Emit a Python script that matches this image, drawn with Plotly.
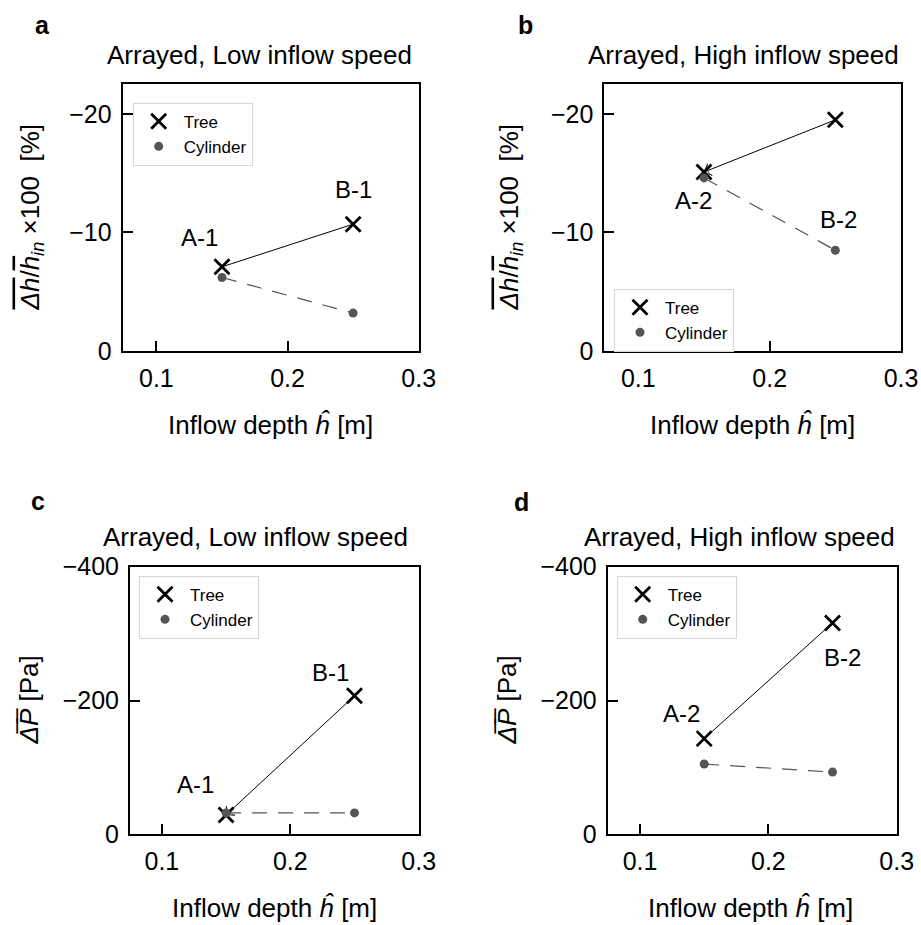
import plotly.graph_objects as go

# ---------------- data ----------------
depth = [0.15, 0.25]

tree_dh_low = [-7.1, -10.7]
cyl_dh_low = [-6.2, -3.2]
tree_dh_high = [-15.1, -19.5]
cyl_dh_high = [-14.6, -8.5]

tree_dp_low = [-29, -207]
cyl_dp_low = [-32, -32]
tree_dp_high = [-143, -316]
cyl_dp_high = [-105, -93]

labels_low = ["A-1", "B-1"]
labels_high = ["A-2", "B-2"]

panel_letters = ["a", "b", "c", "d"]
panel_titles = ["Arrayed, Low inflow speed", "Arrayed, High inflow speed",
                "Arrayed, Low inflow speed", "Arrayed, High inflow speed"]

x_tickvals = [0.1, 0.2, 0.3]
x_ticktext = ["0.1", "0.2", "0.3"]
dh_tickvals = [0, -10, -20]
dh_ticktext = ["0", "\u221210", "\u221220"]
dp_tickvals = [0, -200, -400]
dp_ticktext = ["0", "\u2212200", "\u2212400"]

series_names = ["Tree", "Cylinder"]

# ---------------- styling ----------------
W, H = 921, 925
FONT = "Liberation Sans, Arial, Helvetica, sans-serif"
CYL_COLOR = "#555555"


def px(x):
    return x / W


def py(y):
    return 1 - y / H


fig = go.Figure()

panels = [
    dict(tree=tree_dh_low, cyl=cyl_dh_low, labels=labels_low, ax="", legend="legend",
         arrow=False),
    dict(tree=tree_dh_high, cyl=cyl_dh_high, labels=labels_high, ax="2", legend="legend2",
         arrow=True),
    dict(tree=tree_dp_low, cyl=cyl_dp_low, labels=labels_low, ax="3", legend="legend3",
         arrow=True),
    dict(tree=tree_dp_high, cyl=cyl_dp_high, labels=labels_high, ax="4", legend="legend4",
         arrow=False),
]

for p in panels:
    xa, ya = "x" + p["ax"], "y" + p["ax"]
    # connecting lines
    fig.add_trace(go.Scatter(x=depth, y=p["tree"], mode="lines", xaxis=xa, yaxis=ya,
                             line=dict(color="black", width=1), showlegend=False,
                             hoverinfo="skip"))
    fig.add_trace(go.Scatter(x=depth, y=p["cyl"], mode="lines", xaxis=xa, yaxis=ya,
                             line=dict(color=CYL_COLOR, width=1.2, dash="15px,11px"),
                             showlegend=False, hoverinfo="skip"))
    if p["arrow"]:
        # arrow head pointing from case B towards case A
        fig.add_trace(go.Scatter(x=depth[::-1], y=p["tree"][::-1], mode="markers",
                                 xaxis=xa, yaxis=ya, showlegend=False, hoverinfo="skip",
                                 marker=dict(symbol="arrow-wide-open", size=[0, 9],
                                             angleref="previous", color="black",
                                             line=dict(color="black", width=1))))
    # markers
    fig.add_trace(go.Scatter(x=depth, y=p["tree"], mode="markers", xaxis=xa, yaxis=ya,
                             name=series_names[0], legend=p["legend"],
                             marker=dict(symbol="x-thin", size=15, color="black",
                                         line=dict(color="black", width=2.8))))
    fig.add_trace(go.Scatter(x=depth, y=p["cyl"], mode="markers", xaxis=xa, yaxis=ya,
                             name=series_names[1], legend=p["legend"],
                             marker=dict(symbol="circle", size=9, color=CYL_COLOR)))

# axes
x_domains = [(122.7, 418.7), (604.3, 901.0), (130.0, 418.7), (607.7, 896.7)]
y_domains = [(84.3, 351.0), (84.3, 351.0), (566.7, 834.3), (566.7, 834.3)]
x_ranges = [[0.0743, 0.3], [0.0741, 0.3], [0.0752, 0.3], [0.0748, 0.3]]
y_ranges = [[0, -22.5], [0, -22.5], [0, -400], [0, -400]]
y_ticks = [(dh_tickvals, dh_ticktext), (dh_tickvals, dh_ticktext),
           (dp_tickvals, dp_ticktext), (dp_tickvals, dp_ticktext)]

common = dict(showline=True, linecolor="black", linewidth=2, mirror=True,
              ticks="inside", ticklen=10, tickwidth=2, tickcolor="black",
              showgrid=False, zeroline=False, automargin=False,
              tickfont=dict(family=FONT, size=25, color="black"))

layout = {}
for i in range(4):
    suf = "" if i == 0 else str(i + 1)
    xd, yd = x_domains[i], y_domains[i]
    layout["xaxis" + suf] = dict(domain=[px(xd[0]), px(xd[1])], range=x_ranges[i],
                                 tickvals=x_tickvals, ticktext=x_ticktext,
                                 anchor="y" + suf, ticklabelstandoff=4, **common)
    layout["yaxis" + suf] = dict(domain=[py(yd[1]), py(yd[0])], range=y_ranges[i],
                                 tickvals=y_ticks[i][0], ticktext=y_ticks[i][1],
                                 anchor="x" + suf, ticklabelstandoff=4, **common)

legend_common = dict(xanchor="left", yanchor="top", bgcolor="white",
                     bordercolor="#d6d6d6", borderwidth=1,
                     font=dict(family=FONT, size=17, color="black"),
                     itemwidth=40, tracegroupgap=0)
layout["legend"] = dict(x=px(132.7), y=py(102.7), **legend_common)
layout["legend2"] = dict(x=px(614.0), y=py(288.7), **legend_common)
layout["legend3"] = dict(x=px(139.0), y=py(575.7), **legend_common)
layout["legend4"] = dict(x=px(616.7), y=py(575.7), **legend_common)

annotations = []

# panel letters
letter_pos = [(42.5, 25), (525, 25), (37.5, 501), (521.7, 502)]
for t, (x, y) in zip(panel_letters, letter_pos):
    annotations.append(dict(text="<b>" + t + "</b>", x=px(x), y=py(y), xref="paper",
                            yref="paper", showarrow=False, xanchor="center",
                            yanchor="middle",
                            font=dict(family=FONT, size=25, color="black")))

# panel titles
title_pos = [(259, 55), (743.5, 55), (255, 537), (739.7, 537)]
for t, (x, y) in zip(panel_titles, title_pos):
    annotations.append(dict(text=t, x=px(x), y=py(y), xref="paper", yref="paper",
                            showarrow=False, xanchor="center", yanchor="middle",
                            font=dict(family=FONT, size=26, color="black")))

# x axis titles
xt_pos = [(270.8, 425), (752.5, 425), (274, 908), (750.8, 908)]
for (x, y) in xt_pos:
    annotations.append(dict(text="Inflow depth <i>\u0125</i> [m]", x=px(x), y=py(y),
                            xref="paper", yref="paper", showarrow=False,
                            xanchor="center", yanchor="middle",
                            font=dict(family=FONT, size=26, color="black")))

# y axis titles
OV = "<span style='text-decoration:overline'>"
dh_title = (OV + "<i>\u0394h</i></span>/" + OV + "<i>h</i></span><sub><i>in</i></sub>"
            " \u00d7100  [%]")
dp_title = "<i>\u0394\u0305P\u0305</i> [Pa]"
yt = [(dh_title, 31, 217.5), (dh_title, 510, 217.5), (dp_title, 28, 700.5),
      (dp_title, 506, 700.5)]
for (t, x, y) in yt:
    annotations.append(dict(text=t, x=px(x), y=py(y), xref="paper", yref="paper",
                            showarrow=False, xanchor="center", yanchor="middle",
                            textangle=-90,
                            font=dict(family=FONT, size=26, color="black")))

# case labels (attached to data points, offset in pixels)
case_ann = [
    ("", labels_low[0], depth[0], tree_dh_low[0], -22, 29),
    ("", labels_low[1], depth[1], tree_dh_low[1], 0, 35),
    ("2", labels_high[0], depth[0], cyl_dh_high[0], -10, -23),
    ("2", labels_high[1], depth[1], cyl_dh_high[1], 3, 31),
    ("3", labels_low[0], depth[0], tree_dp_low[0], -31, 30),
    ("3", labels_low[1], depth[1], tree_dp_low[1], -24, 23),
    ("4", labels_high[0], depth[0], tree_dp_high[0], -23, 25),
    ("4", labels_high[1], depth[1], tree_dp_high[1], 10, -35),
]
for suf, t, x, y, dx, dy in case_ann:
    annotations.append(dict(text=t, x=x, y=y, xref="x" + suf, yref="y" + suf,
                            showarrow=False, xshift=dx, yshift=dy,
                            font=dict(family=FONT, size=24, color="black")))

layout["annotations"] = annotations

fig.update_layout(template="none", width=W, height=H,
                  margin=dict(l=0, r=0, t=0, b=0, pad=0), autosize=False,
                  paper_bgcolor="white", plot_bgcolor="white",
                  font=dict(family=FONT, color="black"), **layout)

fig.write_html("out.html")
